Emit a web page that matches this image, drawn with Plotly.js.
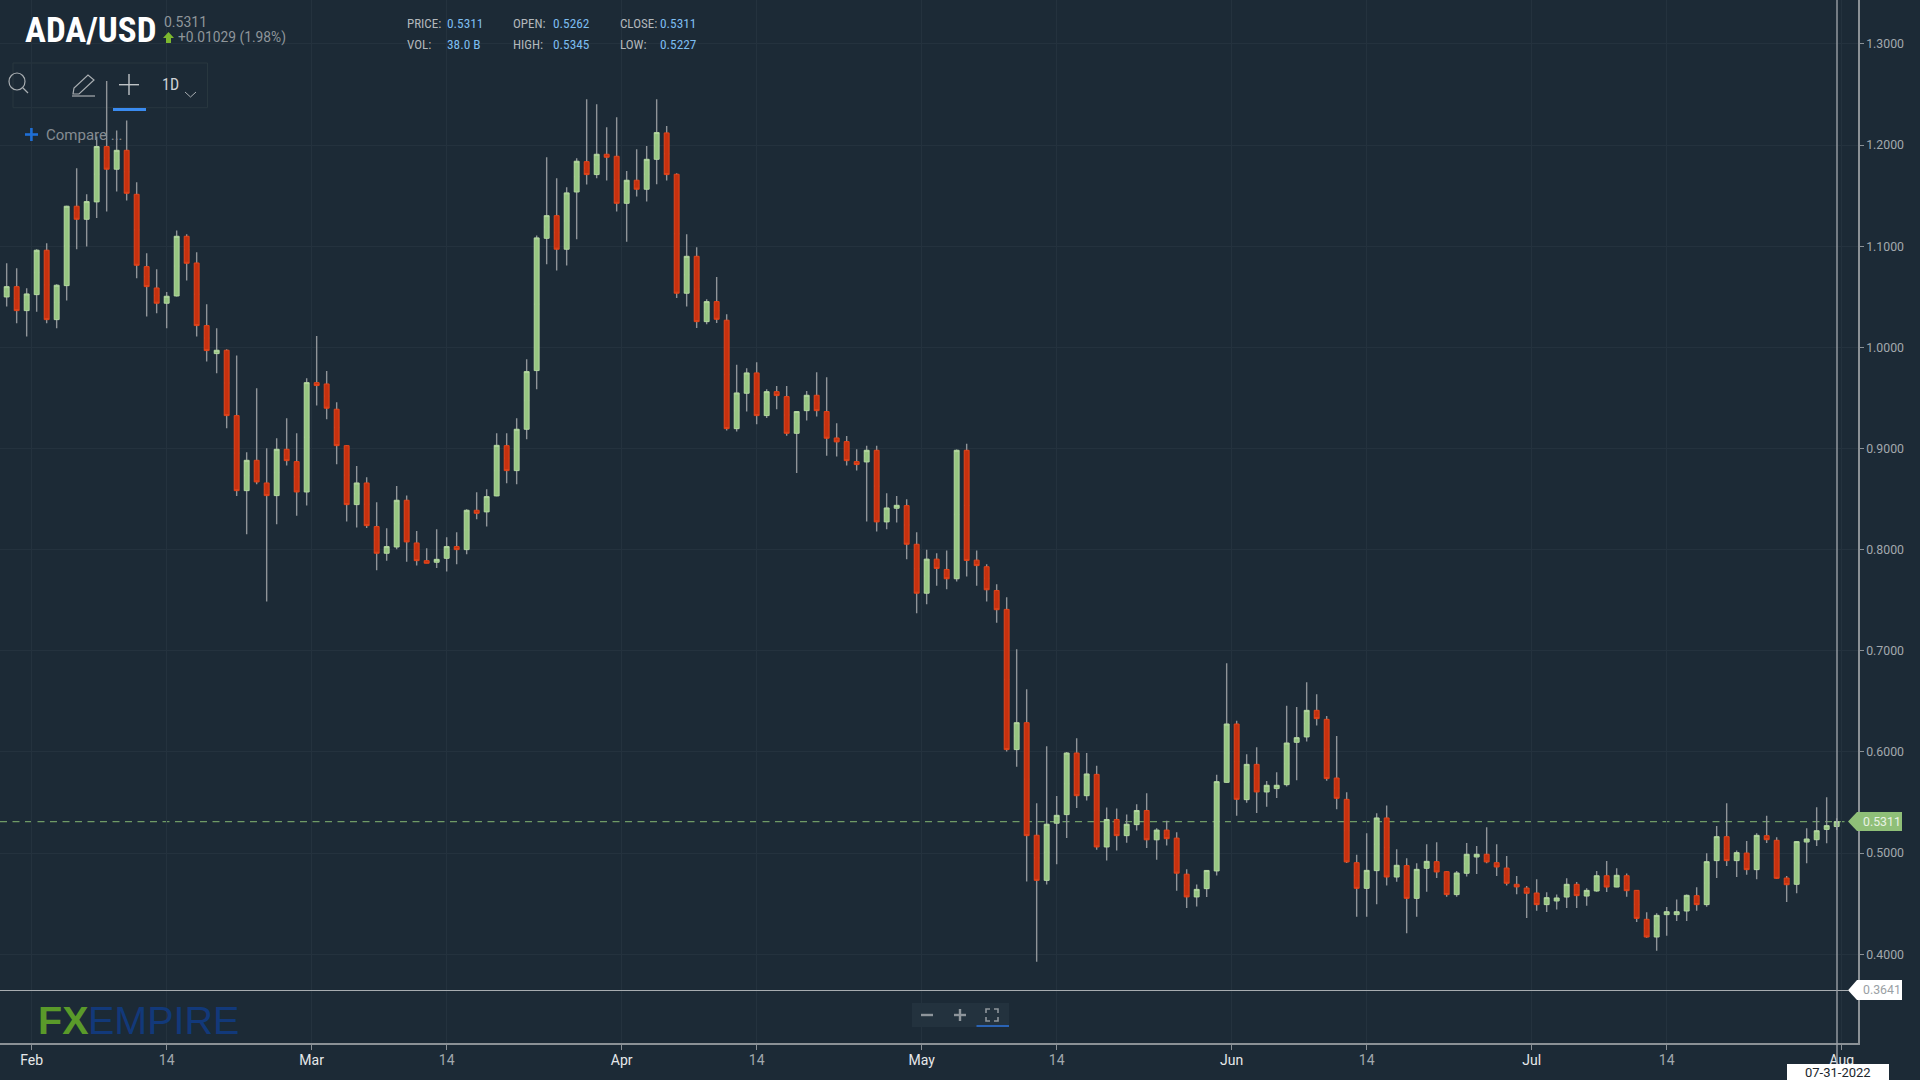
<!DOCTYPE html>
<html><head><meta charset="utf-8"><title>ADA/USD</title>
<script src="https://cdn.plot.ly/plotly-3.0.1.min.js"></script>
<style>html,body{margin:0;padding:0;background:#1c2a36;overflow:hidden}#chart{width:1920px;height:1080px}</style>
</head><body><div id="chart"></div>
<script>
const firstDay = '2022-01-29';
const open = [
1.0498,1.0600,1.0363,1.0521,1.0960,1.0274,1.0610,1.1395,1.1266,1.1438,
1.1985,1.1761,1.1948,1.1513,1.0798,1.0587,1.0436,1.0508,1.1098,1.0834,
1.0215,0.9938,0.9971,0.9325,0.8583,0.8883,0.8659,0.8534,0.8992,0.8870,
0.8570,0.9651,0.9638,0.9388,0.9028,0.8445,0.8659,0.8228,0.7964,0.8026,
0.8488,0.8066,0.7891,0.7875,0.7914,0.8030,0.8000,0.8389,0.8373,0.8531,
0.9028,0.8781,0.9190,0.9770,1.1078,1.1302,1.0970,1.1536,1.1836,1.1708,
1.1909,1.1889,1.1424,1.1652,1.1563,1.1859,1.2120,1.1711,1.0535,1.0900,
1.0254,1.0452,1.0268,0.9196,0.9546,0.9747,0.9325,0.9562,0.9513,0.9150,
0.9374,0.9526,0.9365,0.9104,0.9068,0.8870,0.8867,0.8982,0.8274,0.8409,
0.8435,0.8053,0.7569,0.7906,0.7804,0.7712,0.8982,0.7896,0.7831,0.7596,
0.7409,0.6023,0.6289,0.5176,0.4730,0.5295,0.5380,0.5989,0.5567,0.5778,
0.5060,0.5332,0.5172,0.5281,0.5421,0.5131,0.5227,0.5148,0.4791,0.4566,
0.4648,0.4823,0.5699,0.6276,0.5528,0.5877,0.5604,0.5637,0.5676,0.6095,
0.6148,0.6411,0.6322,0.5742,0.5531,0.4905,0.4651,0.4826,0.5347,0.4763,
0.4876,0.4552,0.4849,0.4915,0.4816,0.4589,0.4800,0.4961,0.4988,0.4905,
0.4852,0.4691,0.4654,0.4605,0.4490,0.4526,0.4565,0.4691,0.4575,0.4625,
0.4776,0.4664,0.4776,0.4631,0.4345,0.4170,0.4391,0.4391,0.4427,0.4579,
0.4490,0.4925,0.5162,0.4925,0.5000,0.4836,0.5172,0.5126,0.4753,0.4691,
0.5109,0.5132,0.5234,0.5262];
const high = [
1.0831,1.0782,1.0584,1.0970,1.1029,1.0624,1.1401,1.1770,1.1513,1.2084,
1.2634,1.2143,1.2242,1.1632,1.0930,1.0772,1.0548,1.1154,1.1118,1.0940,
1.0426,1.0188,0.9981,0.9918,0.8963,0.9595,0.9002,0.9101,0.9299,0.9150,
0.9694,1.0113,0.9767,0.9457,0.9031,0.8827,0.8715,0.8468,0.8211,0.8630,
0.8534,0.8185,0.8013,0.8201,0.8122,0.8171,0.8399,0.8567,0.8597,0.9150,
0.9150,0.9299,0.9882,1.1105,1.1879,1.1672,1.1583,1.1869,1.2453,1.2403,
1.2176,1.2275,1.1744,1.1958,1.1991,1.2453,1.2189,1.1721,1.1118,1.0989,
1.0475,1.0696,1.0327,0.9829,0.9793,0.9852,0.9585,0.9618,0.9618,0.9371,
0.9569,0.9753,0.9704,0.9249,0.9124,0.8992,0.9028,0.9028,0.8557,0.8531,
0.8498,0.8172,0.7998,0.7964,0.7991,0.8989,0.9047,0.7991,0.7855,0.7658,
0.7528,0.7014,0.6619,0.5492,0.6057,0.5564,0.6000,0.6136,0.5989,0.5863,
0.5451,0.5441,0.5380,0.5482,0.5591,0.5244,0.5319,0.5206,0.4839,0.4689,
0.4832,0.5775,0.6876,0.6309,0.5976,0.6045,0.5713,0.5798,0.6457,0.6444,
0.6688,0.6570,0.6355,0.6158,0.5601,0.4984,0.5195,0.5393,0.5469,0.5037,
0.4948,0.4898,0.5086,0.5106,0.4819,0.4823,0.5100,0.5070,0.5255,0.5086,
0.4971,0.4773,0.4674,0.4740,0.4612,0.4589,0.4750,0.4714,0.4651,0.4822,
0.4921,0.4849,0.4799,0.4631,0.4414,0.4404,0.4467,0.4542,0.4589,0.4661,
0.4997,0.5267,0.5492,0.5024,0.5119,0.5195,0.5370,0.5155,0.4773,0.5119,
0.5244,0.5452,0.5551,0.5345];
const low = [
1.0403,1.0238,1.0106,1.0353,1.0238,1.0188,1.0462,1.0970,1.0996,1.1279,
1.1342,1.1540,1.1451,1.0683,1.0304,1.0337,1.0188,1.0502,1.0660,1.0106,
0.9859,0.9744,0.9200,0.8531,0.8152,0.8646,0.7486,0.8251,0.8831,0.8336,
0.8435,0.9424,0.9289,0.8844,0.8277,0.8218,0.8214,0.7796,0.7891,0.8003,
0.7881,0.7842,0.7865,0.7819,0.7783,0.7855,0.7954,0.8300,0.8228,0.8527,
0.8656,0.8646,0.9091,0.9585,1.0821,1.0759,1.0808,1.1068,1.1609,1.1672,
1.1649,1.1342,1.1045,1.1490,1.1441,1.1612,1.1649,1.0488,1.0403,1.0192,
1.0228,1.0241,0.9177,0.9167,0.9365,0.9239,0.9302,0.9388,0.9127,0.8758,
0.9276,0.9315,0.8929,0.8920,0.8831,0.8781,0.8277,0.8178,0.8201,0.8267,
0.7904,0.7372,0.7460,0.7644,0.7607,0.7685,0.7733,0.7644,0.7487,0.7276,
0.6003,0.5853,0.4719,0.3926,0.4689,0.4890,0.5148,0.5445,0.5520,0.5033,
0.4927,0.5026,0.5101,0.5223,0.5050,0.4934,0.5074,0.4627,0.4457,0.4471,
0.4566,0.4777,0.5696,0.5370,0.5498,0.5396,0.5459,0.5545,0.5657,0.5719,
0.6102,0.6260,0.5716,0.5432,0.4902,0.4371,0.4371,0.4493,0.4678,0.4717,
0.4206,0.4371,0.4618,0.4754,0.4569,0.4569,0.4767,0.4793,0.4898,0.4773,
0.4678,0.4592,0.4358,0.4430,0.4417,0.4443,0.4457,0.4457,0.4480,0.4618,
0.4615,0.4661,0.4569,0.4318,0.4163,0.4035,0.4183,0.4328,0.4328,0.4430,
0.4470,0.4753,0.4872,0.4763,0.4786,0.4740,0.5099,0.4747,0.4516,0.4602,
0.4898,0.5070,0.5096,0.5227];
const close = [
1.0600,1.0363,1.0528,1.0960,1.0274,1.0614,1.1395,1.1266,1.1441,1.1985,
1.1761,1.1948,1.1523,1.0811,1.0600,1.0436,1.0505,1.1098,1.0831,1.0215,
0.9968,0.9971,0.9325,0.8583,0.8883,0.8669,0.8534,0.8992,0.8880,0.8570,
0.9651,0.9622,0.9398,0.9028,0.8445,0.8659,0.8237,0.7964,0.8030,0.8488,
0.8076,0.7891,0.7865,0.7904,0.8030,0.8000,0.8389,0.8359,0.8524,0.9031,
0.8781,0.9190,0.9760,1.1082,1.1302,1.0970,1.1527,1.1840,1.1708,1.1909,
1.1879,1.1424,1.1652,1.1563,1.1859,1.2123,1.1708,1.0535,1.0900,1.0254,
1.0452,1.0277,0.9196,0.9549,0.9747,0.9325,0.9562,0.9523,0.9150,0.9365,
0.9526,0.9374,0.9101,0.9065,0.8880,0.8841,0.8982,0.8274,0.8412,0.8438,
0.8053,0.7569,0.7906,0.7814,0.7712,0.8982,0.7893,0.7842,0.7603,0.7406,
0.6023,0.6289,0.5172,0.4730,0.5285,0.5373,0.5989,0.5567,0.5782,0.5060,
0.5332,0.5172,0.5285,0.5421,0.5131,0.5227,0.5142,0.4801,0.4566,0.4641,
0.4828,0.5706,0.6276,0.5531,0.5877,0.5604,0.5670,0.5670,0.6088,0.6141,
0.6411,0.6329,0.5736,0.5541,0.4912,0.4651,0.4829,0.5347,0.4763,0.4879,
0.4552,0.4839,0.4918,0.4813,0.4589,0.4803,0.4988,0.4988,0.4912,0.4862,
0.4701,0.4665,0.4602,0.4490,0.4559,0.4556,0.4691,0.4579,0.4631,0.4776,
0.4664,0.4780,0.4628,0.4354,0.4170,0.4384,0.4420,0.4420,0.4582,0.4490,
0.4915,0.5162,0.4925,0.5004,0.4836,0.5175,0.5132,0.4750,0.4687,0.5113,
0.5139,0.5221,0.5271,0.5311];

const xTickDates = ['2022-02-01','2022-02-14 12:00','2022-03-01','2022-03-14 12:00','2022-04-01','2022-04-14 12:00','2022-05-01','2022-05-14 12:00','2022-06-01','2022-06-14 12:00','2022-07-01','2022-07-14 12:00','2022-08-01'];
const xTickLabels = ['Feb','14','Mar','14','Apr','14','May','14','Jun','14','Jul','14','Aug'];
const yTicks = [0.4,0.5,0.6,0.7,0.8,0.9,1.0,1.1,1.2,1.3];
const lastPrice = 0.5311, lowMark = 0.3641;

const BG = '#1c2a36', GRID = '#24323e', AXIS = '#8b9196';
const W = 1858, H = 1043;
const NARROW = '"Liberation Sans Narrow","Roboto Condensed",Roboto,sans-serif';
const px = x => x / W, py = y => 1 - y / H;

const days = open.map((_, i) => {
  const d = new Date(Date.parse(firstDay + 'T12:00:00Z') + i * 86400000);
  return d.toISOString().slice(0, 10) + ' 12:00';
});
const mid = open.map((o, i) => (o + close[i]) / 2);
const bodyHigh = open.map((o, i) => Math.max(o, close[i]));
const bodyLow = open.map((o, i) => Math.min(o, close[i]));

const wickStyle = {line: {color: '#8f9498', width: 1.4}, fillcolor: 'rgba(0,0,0,0)'};
const wicks = {type: 'candlestick', x: days, open: mid, close: mid, high, low, whiskerwidth: 0,
  increasing: wickStyle, decreasing: wickStyle, showlegend: false, hoverinfo: 'skip'};
const bodies = {type: 'candlestick', x: days, open, close, high: bodyHigh, low: bodyLow, whiskerwidth: 0,
  increasing: {line: {color: '#b4d8a0', width: 1}, fillcolor: '#97c681'},
  decreasing: {line: {color: '#e2441a', width: 1}, fillcolor: '#c6310f'},
  showlegend: false, name: 'ADA/USD'};

function rect(x0, y0, x1, y1, fill, line, layer) {
  return {type: 'rect', xref: 'paper', yref: 'paper', x0: px(x0), x1: px(x1), y0: py(y0), y1: py(y1),
    fillcolor: fill, line: line ? {color: line, width: 1} : {width: 0}, layer: layer || 'above'};
}
function seg(x0, y0, x1, y1, color, width, layer) {
  return {type: 'line', xref: 'paper', yref: 'paper', x0: px(x0), x1: px(x1), y0: py(y0), y1: py(y1),
    line: {color, width: width || 1}, layer: layer || 'above'};
}
function poly(points, fill, line, width, closed) {
  const d = points.map((p, i) => (i ? 'L' : 'M') + px(p[0]) + ',' + py(p[1])).join(' ') + (closed === false ? '' : ' Z');
  return {type: 'path', xref: 'paper', yref: 'paper', path: d, fillcolor: fill || 'rgba(0,0,0,0)',
    line: line ? {color: line, width: width || 1} : {width: 0}, layer: 'above'};
}
function note(text, x, y, size, color, font, anchor) {
  return {text, xref: 'paper', yref: 'paper', x: px(x), y: py(y), xanchor: anchor || 'left', yanchor: 'middle',
    showarrow: false, borderpad: 0, font: {size, color, family: font || NARROW}};
}

const ICON = '#a9aeb2';
const shapes = [
  rect(13, 63, 207.5, 107.7, BG, '#28373f', 'below'),
  {type: 'line', xref: 'paper', yref: 'y', x0: 0, x1: px(1847), y0: lastPrice, y1: lastPrice,
    line: {color: '#6f9a66', width: 1.4, dash: '7px,5.5px'}, layer: 'below'},
  {type: 'line', xref: 'paper', yref: 'y', x0: 0, x1: px(1848), y0: lowMark, y1: lowMark,
    line: {color: '#a8adb1', width: 1}, layer: 'above'},
  seg(1837, 0, 1837, 1064, '#9aa0a5', 1.4),
  // last price and low tags
  poly([[1848, 821.5], [1857, 812], [1902, 812], [1902, 831], [1857, 831]], '#8fbf78'),
  poly([[1848, 990.3], [1857, 980], [1902, 980], [1902, 1000], [1857, 1000]], '#ffffff'),
  // date box
  rect(1787, 1064, 1889, 1080, '#ffffff'),
  // toolbar icons
  {type: 'circle', xref: 'paper', yref: 'paper', x0: px(9), x1: px(25), y0: py(73), y1: py(90),
    line: {color: ICON, width: 1.2}, fillcolor: 'rgba(0,0,0,0)', layer: 'above'},
  seg(23, 88, 28, 93, ICON, 1.2),
  poly([[73, 94], [74, 88], [88, 75], [94, 80], [79, 94]], null, ICON, 1.2),
  seg(72, 96, 95, 96, ICON, 1.2),
  seg(119, 84.7, 139, 84.7, '#bfc3c6', 1.4),
  seg(129, 74, 129, 95, '#bfc3c6', 1.4),
  rect(113, 108, 146, 111, '#3a8bf0'),
  poly([[185, 92], [190.5, 97], [196, 92]], null, ICON, 1, false),
  // compare plus
  seg(25, 134.5, 38, 134.5, '#1f6fd6', 2.6),
  seg(31.4, 128, 31.4, 141, '#1f6fd6', 2.6),
  // green arrow
  poly([[168.5, 32], [174, 38], [171, 38], [171, 43], [166, 43], [166, 38], [163, 38]], '#7cb82f'),
  // zoom controls
  rect(912, 1003, 1009, 1027, '#23323e'),
  seg(921, 1015, 933, 1015, '#8e959b', 2.4),
  seg(954, 1015, 966, 1015, '#8e959b', 2.4),
  seg(960, 1009, 960, 1021, '#8e959b', 2.4),
  poly([[986, 1013], [986, 1009], [990, 1009]], null, '#8e959b', 1.6, false),
  poly([[994, 1009], [998, 1009], [998, 1013]], null, '#8e959b', 1.6, false),
  poly([[986, 1017], [986, 1021], [990, 1021]], null, '#8e959b', 1.6, false),
  poly([[994, 1021], [998, 1021], [998, 1017]], null, '#8e959b', 1.6, false),
  rect(976.5, 1025, 1009, 1027, '#2a63b5')
];

const LABEL = '#b2b7bb', VALUE = '#7cbdf0';
const annotations = [
  note('<b>ADA/USD</b>', 24, 30.5, 35, '#ffffff'),
  note('0.5311', 163, 21.7, 14, '#8f969b', 'Roboto'),
  note('+0.01029 (1.98%)', 177, 37.7, 13.8, '#8f969b', 'Roboto'),
  note('PRICE:', 406, 23.3, 13, LABEL), note('0.5311', 446, 23.3, 13.3, VALUE),
  note('VOL:', 406, 44.3, 13, LABEL), note('38.0 B', 446, 44.3, 13.3, VALUE),
  note('OPEN:', 512, 23.3, 13, LABEL), note('0.5262', 552, 23.3, 13.3, VALUE),
  note('HIGH:', 512, 44.3, 13, LABEL), note('0.5345', 552, 44.3, 13.3, VALUE),
  note('CLOSE:', 619, 23.3, 13, LABEL), note('0.5311', 659, 23.3, 13.3, VALUE),
  note('LOW:', 619, 44.3, 13, LABEL), note('0.5227', 659, 44.3, 13.3, VALUE),
  note('1D', 161, 84, 16, '#cfd2d5'),
  note('Compare ...', 44.5, 135.5, 15, '#858c92', 'Roboto'),
  note('<b>FX</b>', 37, 1020, 39.5, '#5a9a2a', '"Liberation Sans"'),
  note('EMPIRE', 86.5, 1020, 39.5, '#12397a', '"Liberation Sans"'),
  note('0.5311', 1861.7, 821.5, 12.3, '#e9f2e4', 'Roboto'),
  note('0.3641', 1861.7, 990.3, 12.3, '#9aa0a4', 'Roboto'),
  note('07-31-2022', 1838, 1072, 13, '#20262c', 'Roboto', 'center')
];

const layout = {
  width: 1920, height: 1080, autosize: false,
  paper_bgcolor: BG, plot_bgcolor: BG,
  margin: {l: 0, r: 62, t: 0, b: 37, pad: 0},
  boxgap: 0.3, showlegend: false, dragmode: false,
  xaxis: {type: 'date', range: ['2022-01-28 20:00', '2022-08-02 15:12'], rangeslider: {visible: false},
    tickmode: 'array', tickvals: xTickDates,
    ticktext: xTickLabels.map(t => t === '14' ? t : '<span style="color:#e6e8ea">' + t + '</span>'),
    tickfont: {family: 'Roboto', size: 14, color: '#a2a8ad'},
    ticks: 'outside', ticklen: 5, tickwidth: 1, tickcolor: AXIS, ticklabelstandoff: -2,
    showline: true, linecolor: AXIS, linewidth: 1.5, showgrid: true, gridcolor: GRID, gridwidth: 1, zeroline: false},
  yaxis: {side: 'right', range: [0.3122, 1.3434], tickmode: 'array', tickvals: yTicks, tickformat: '.4f',
    tickfont: {family: 'Roboto', size: 12.3, color: '#a2a8ad'},
    ticks: 'outside', ticklen: 4, tickwidth: 1, tickcolor: AXIS, ticklabelstandoff: 0,
    showline: true, linecolor: AXIS, linewidth: 1.5, showgrid: true, gridcolor: GRID, gridwidth: 1, zeroline: false},
  shapes, annotations
};
Plotly.newPlot('chart', [wicks, bodies], layout, {displayModeBar: false, staticPlot: false, responsive: false});
</script></body></html>
